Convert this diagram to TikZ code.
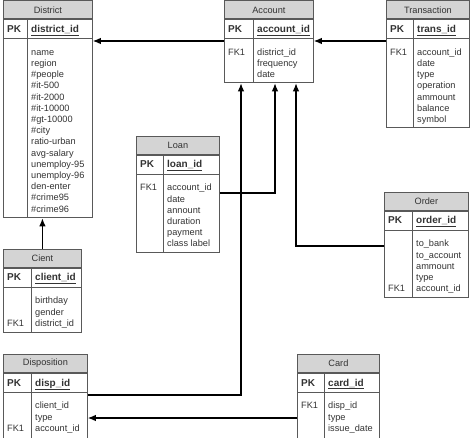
\documentclass[tikz,border=0pt]{standalone}
\usepackage{fontspec}
\setmainfont{Liberation Sans}
\usepackage{tikz}
\usetikzlibrary{arrows.meta,calc,positioning}

\definecolor{headgray}{gray}{0.83}
\definecolor{tblgray}{gray}{0.35}
\definecolor{txtgray}{gray}{0.2}

\tikzset{
  tbl/.style={draw=tblgray, line width=0.8pt, anchor=north west, inner sep=0pt},
  tblhead/.style={tbl, fill=headgray, minimum height=18pt, text=txtgray},
  tblrow/.style={tbl, minimum height=19pt},
  tblline/.style={draw=tblgray, line width=0.8pt},
  field/.style={anchor=west, inner sep=0pt, text height=6.6pt, text depth=0pt, text=txtgray},
  pk/.style={field, font=\bfseries},
  fk/.style={line width=1.2pt, -{Latex[length=8pt,width=6.5pt]}},
}

% Tabelle: Name, x, y, Breite, Hoehe, Trennlinie, Titel, Schluessel
\newcommand{\erTable}[8]{%
  \node[tbl, minimum width=#4pt, minimum height=#5pt] (#1) at (#2,#3) {};
  \node[tblhead, minimum width=#4pt] (#1-head) at (#1.north west) {#7};
  \node[tblrow, minimum width=#4pt] (#1-pkrow) at (#1-head.south west) {};
  \draw[tblline] ([xshift=#6pt]#1-pkrow.north west) -- ([xshift=#6pt]#1.south west);
  \node[pk] (#1-pk) at ([xshift=4pt]#1-pkrow.west) {PK};
  \node[pk] (#1-key) at ([xshift=#6pt+4pt]#1-pkrow.west) {\underline{#8}};
}
% Felder untereinander
\newcommand{\erFields}[3]{%
  \foreach \f [count=\i] in {#3}
    \node[field] (#1-f\i) at ([xshift=#2pt+4pt, yshift={-13pt-11.2pt*(\i-1)}]#1-pkrow.south west) {\f};
}

\begin{document}
\begin{tikzpicture}[x=1pt, y=-1pt, font=\fontsize{9.2}{11.2}\selectfont]
\useasboundingbox (0,0) rectangle (474,438);
\clip (0,0) rectangle (474,438);

\erTable{district}{3}{0.5}{89}{217}{24}{District}{district\_id}
\erFields{district}{24}{name,region,\#people,\#it-500,\#it-2000,\#it-10000,\#gt-10000,\#city,ratio-urban,avg-salary,unemploy-95,unemploy-96,den-enter,\#crime95,\#crime96}

\erTable{account}{224}{0.5}{89}{82}{29}{Account}{account\_id}
\erFields{account}{29}{district\_id,frequency,date}
\node[field, xshift=4pt] (account-fk) at (account-f1.west -| account.west) {FK1};

\erTable{transaction}{386}{0.5}{83}{127}{27}{Transaction}{trans\_id}
\erFields{transaction}{27}{account\_id,date,type,operation,ammount,balance,symbol}
\node[field, xshift=4pt] (transaction-fk) at (transaction-f1.west -| transaction.west) {FK1};

\erTable{loan}{136}{136}{83}{116}{27}{Loan}{loan\_id}
\erFields{loan}{27}{account\_id,date,annount,duration,payment,class label}
\node[field, xshift=4pt] (loan-fk) at (loan-f1.west -| loan.west) {FK1};

\erTable{client}{3}{249}{78}{83}{28}{Cient}{client\_id}
\erFields{client}{28}{birthday,gender,district\_id}
\node[field, xshift=4pt] (client-fk) at (client-f3.west -| client.west) {FK1};

\erTable{order}{384}{192}{84}{105}{28}{Order}{order\_id}
\erFields{order}{28}{to\_bank,to\_account,ammount,type,account\_id}
\node[field, xshift=4pt] (order-fk) at (order-f5.west -| order.west) {FK1};

\erTable{disposition}{3}{354}{84}{83.5}{28}{Disposition}{disp\_id}
\erFields{disposition}{28}{client\_id,type,account\_id}
\node[field, xshift=4pt] (disposition-fk) at (disposition-f3.west -| disposition.west) {FK1};

\erTable{card}{297}{354}{82}{83.5}{27}{Card}{card\_id}
\erFields{card}{27}{disp\_id,type,issue\_date}
\node[field, xshift=4pt] (card-fk) at (card-f1.west -| card.west) {FK1};

%Verbindungen
\draw[fk] (account.west |- 0,41) -- (district.east |- 0,41);
\draw[fk] (transaction.west |- 0,41) -- (account.east |- 0,41);
\draw[fk] (client.north) -- (client.north |- district.south);
\draw[fk] (loan.east |- 0,193) -| (account.south -| 275,0);
\draw[fk] (order.west |- 0,246) -| (account.south -| 296,0);
\draw[fk] (disposition.east |- 0,395) -| (account.south -| 241,0);
\draw[fk] (card.west |- 0,418) -- (disposition.east |- 0,418);
\end{tikzpicture}
\end{document}
